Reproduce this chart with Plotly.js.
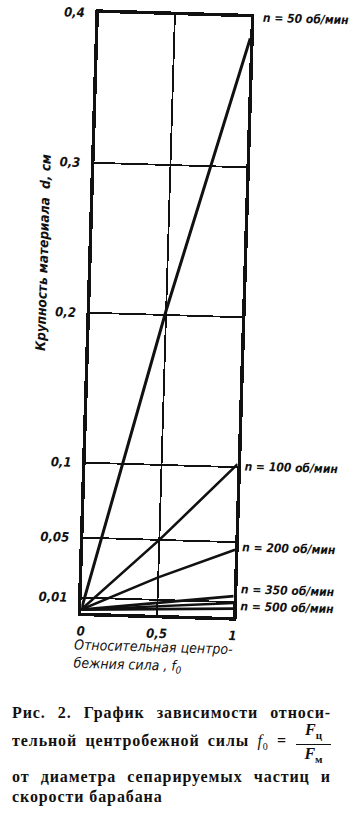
<!DOCTYPE html>
<html>
<head>
<meta charset="utf-8">
<script src="https://cdn.plot.ly/plotly-3.0.1.min.js"></script>
<style>
  html, body { margin: 0; padding: 0; background: #fff; overflow: hidden; }
  body { width: 358px; height: 815px; position: relative; }
  #chart {
    position: absolute; left: 0; top: 0; width: 358px; height: 690px;
    transform: rotate(1.7deg); transform-origin: 166px 315px;
  }
  .cap {
    position: absolute; left: 12px; width: 319px; height: 20px; line-height: 20px;
    font-family: "Liberation Serif", "DejaVu Serif", serif;
    font-size: 16px; font-weight: bold; color: #111; letter-spacing: 0.9px;
    white-space: nowrap;
  }
  .cap.just { text-align: justify; text-align-last: justify; }
  .frac {
    position: absolute; left: 296px; top: 721px; width: 35px;
    font-family: "Liberation Serif", "DejaVu Serif", serif; font-weight: bold;
    font-size: 16px; color: #111; text-align: center; font-style: italic; line-height: 18px;
  }
  .frac .num { display: block; border-bottom: 1.5px solid #111; }
  .frac .den { display: block; }
  .frac sub { font-style: normal; font-size: 11px; }
</style>
</head>
<body>
<div id="chart"></div>
<div class="cap just" style="top:703px">Рис. 2. График зависимости относи-</div>
<div class="cap just" style="top:731px;width:275px">тельной центробежной силы <i style="font-weight:normal">f</i><sub style="font-size:10px;font-weight:normal">0</sub> =</div>
<div class="frac"><span class="num">F<sub>ц</sub></span><span class="den">F<sub>м</sub></span></div>
<div class="cap just" style="top:767px">от диаметра сепарируемых частиц и</div>
<div class="cap" style="top:787px">скорости барабана</div>
<script>
// Relative centrifugal force f0 (x axis)
const fRel = [0, 0.5, 1];

// Particle size d, cm, for each drum speed
const d50 = [0.002, 0.203, 0.386];
const d100 = [0.002, 0.050, 0.102];
const d200 = [0.002, 0.025, 0.045];
const d350 = [0.002, 0.008, 0.014];
const dUnlabelled = [0.002, 0.0058, 0.0094];
const d500 = [0.002, 0.0038, 0.0057];

// Speed labels and the height at which each is written
const speedLabels = ['n = 50 об/мин', 'n = 100 об/мин', 'n = 200 об/мин', 'n = 350 об/мин', 'n = 500 об/мин'];
const speedLabelY = [0.4, 0.101, 0.047, 0.019, 0.0076];
const speedLabelShift = [8, 3, 3, 3, 3];

// Tick labels
const yTickVals = [0.01, 0.05, 0.1, 0.2, 0.3, 0.4];
const yTickText = ['0,01', '0,05', '0,1', '0,2', '0,3', '0,4'];
const xTickVals = [0, 0.5, 1];
const xTickText = ['0', '0,5', '1'];

const FONT = '"DejaVu Sans Condensed", "Liberation Sans Narrow", "Roboto Condensed", "DejaVu Sans", sans-serif';
const ink = '#111';

function line(y, w) {
  return { x: fRel, y: y, mode: 'lines', line: { color: ink, width: w }, hoverinfo: 'skip', showlegend: false };
}

const traces = [
  line(d50, 3),
  line(d100, 2.6),
  line(d200, 2.6),
  line(d350, 2.6),
  line(dUnlabelled, 2.4),
  line(d500, 2.6)
];

const labelAnnotations = speedLabels.map((t, i) => ({
  text: t, xref: 'x', yref: 'y', x: 1, y: speedLabelY[i],
  xanchor: 'left', yanchor: 'middle', xshift: speedLabelShift[i] + 2,
  showarrow: false,
  font: { family: FONT, size: 12, color: ink, style: 'italic', weight: 'bold' }
}));

const layout = {
  width: 358, height: 690,
  margin: { l: 90, r: 116, t: 15, b: 75 },
  paper_bgcolor: 'rgba(0,0,0,0)', plot_bgcolor: '#fff',
  xaxis: {
    range: [0, 1], tickvals: xTickVals, ticktext: xTickText,
    showgrid: true, gridcolor: ink, gridwidth: 1.8,
    showline: true, linecolor: ink, linewidth: 3.5, mirror: true,
    zeroline: false, ticks: '', ticklabelstandoff: 4,
    tickfont: { family: FONT, size: 13, color: ink, style: 'italic', weight: 'bold' },
    fixedrange: true
  },
  yaxis: {
    range: [0, 0.4], tickvals: yTickVals, ticktext: yTickText,
    showgrid: true, gridcolor: ink, gridwidth: 1.8,
    showline: true, linecolor: ink, linewidth: 3.5, mirror: true,
    zeroline: false, ticks: '', ticklabelstandoff: 8,
    tickfont: { family: FONT, size: 13, color: ink, style: 'italic', weight: 'bold' },
    fixedrange: true
  },
  annotations: labelAnnotations.concat([
    {
      text: 'Крупность материала  <i>d</i>, см',
      xref: 'paper', yref: 'paper', x: -0.32, y: 0.598,
      xanchor: 'center', yanchor: 'middle', textangle: -90, showarrow: false,
      font: { family: FONT, size: 13.5, color: ink, style: 'italic', weight: 'bold' }
    },
    {
      text: '<i>Относительная центро-<br>бежния сила , f<sub>0</sub></i>',
      xref: 'paper', yref: 'paper', x: 0, y: 0, xshift: -8, yshift: -22,
      xanchor: 'left', yanchor: 'top', align: 'left', showarrow: false,
      font: { family: FONT, size: 14, color: ink, style: 'italic' }
    }
  ])
};

Plotly.newPlot('chart', traces, layout, { staticPlot: true, displayModeBar: false });
</script>
</body>
</html>
